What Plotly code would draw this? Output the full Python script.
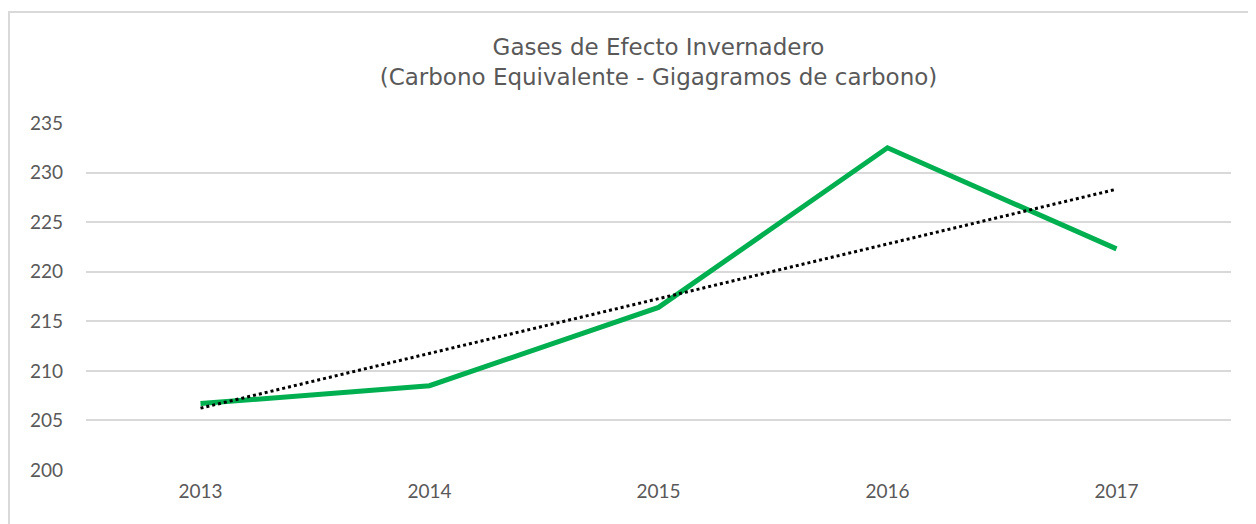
import numpy as np
import plotly.graph_objects as go

years = ["2013", "2014", "2015", "2016", "2017"]
emissions = [206.7, 208.5, 216.4, 232.5, 222.3]
y_ticks = [200, 205, 210, 215, 220, 225, 230, 235]

xi = np.arange(len(years))
slope, intercept = np.polyfit(xi, emissions, 1)
trend = [intercept, intercept + slope * xi[-1]]

# page body has an 8px margin, so the figure is 8px smaller
OFF = 8
W, H = 1256 - OFF, 524 - OFF
L, T = 86 - OFF, 123 - OFF
pw, ph = 1145, 347
R, B = W - L - pw, H - T - ph

fig = go.Figure()
fig.add_trace(go.Scatter(x=years, y=emissions, mode="lines",
                         line=dict(color="#00B050", width=5),
                         showlegend=False))
fig.add_trace(go.Scatter(x=[years[0], years[-1]], y=trend, mode="lines",
                         line=dict(color="black", width=3, dash="dot"),
                         hoverinfo="skip", showlegend=False))

fig.update_layout(
    width=W, height=H,
    margin=dict(l=L, r=R, t=T, b=B),
    paper_bgcolor="white", plot_bgcolor="white",
    title=dict(text="Gases de Efecto Invernadero<br>(Carbono Equivalente - Gigagramos de carbono)",
               x=0.5, xref="paper", xanchor="center", y=1 - 47 / H, yanchor="top",
               font=dict(family="DejaVu Sans", size=23, color="#595959")),
    xaxis=dict(type="category", categoryorder="array", categoryarray=years,
               range=[-0.5, 4.5], showgrid=False, zeroline=False,
               showline=False, ticks="", ticklabelstandoff=8,
               tickfont=dict(family="Lato", size=19, color="#595959")),
    yaxis=dict(range=[200, 235], tickvals=y_ticks, showgrid=True, gridcolor="#d9d9d9",
               gridwidth=1.5, zeroline=False, showline=False, ticks="",
               ticklabelstandoff=22,
               tickfont=dict(family="Lato", size=19, color="#595959")),
    shapes=[dict(type="rect", xref="paper", yref="paper",
                 x0=(1 - L) / pw, x1=(W + 10 - L) / pw,
                 y0=-(B + 10) / ph, y1=(H - B - 4) / ph,
                 line=dict(color="#d9d9d9", width=2), layer="below")],
)
fig.write_html("out.html")
